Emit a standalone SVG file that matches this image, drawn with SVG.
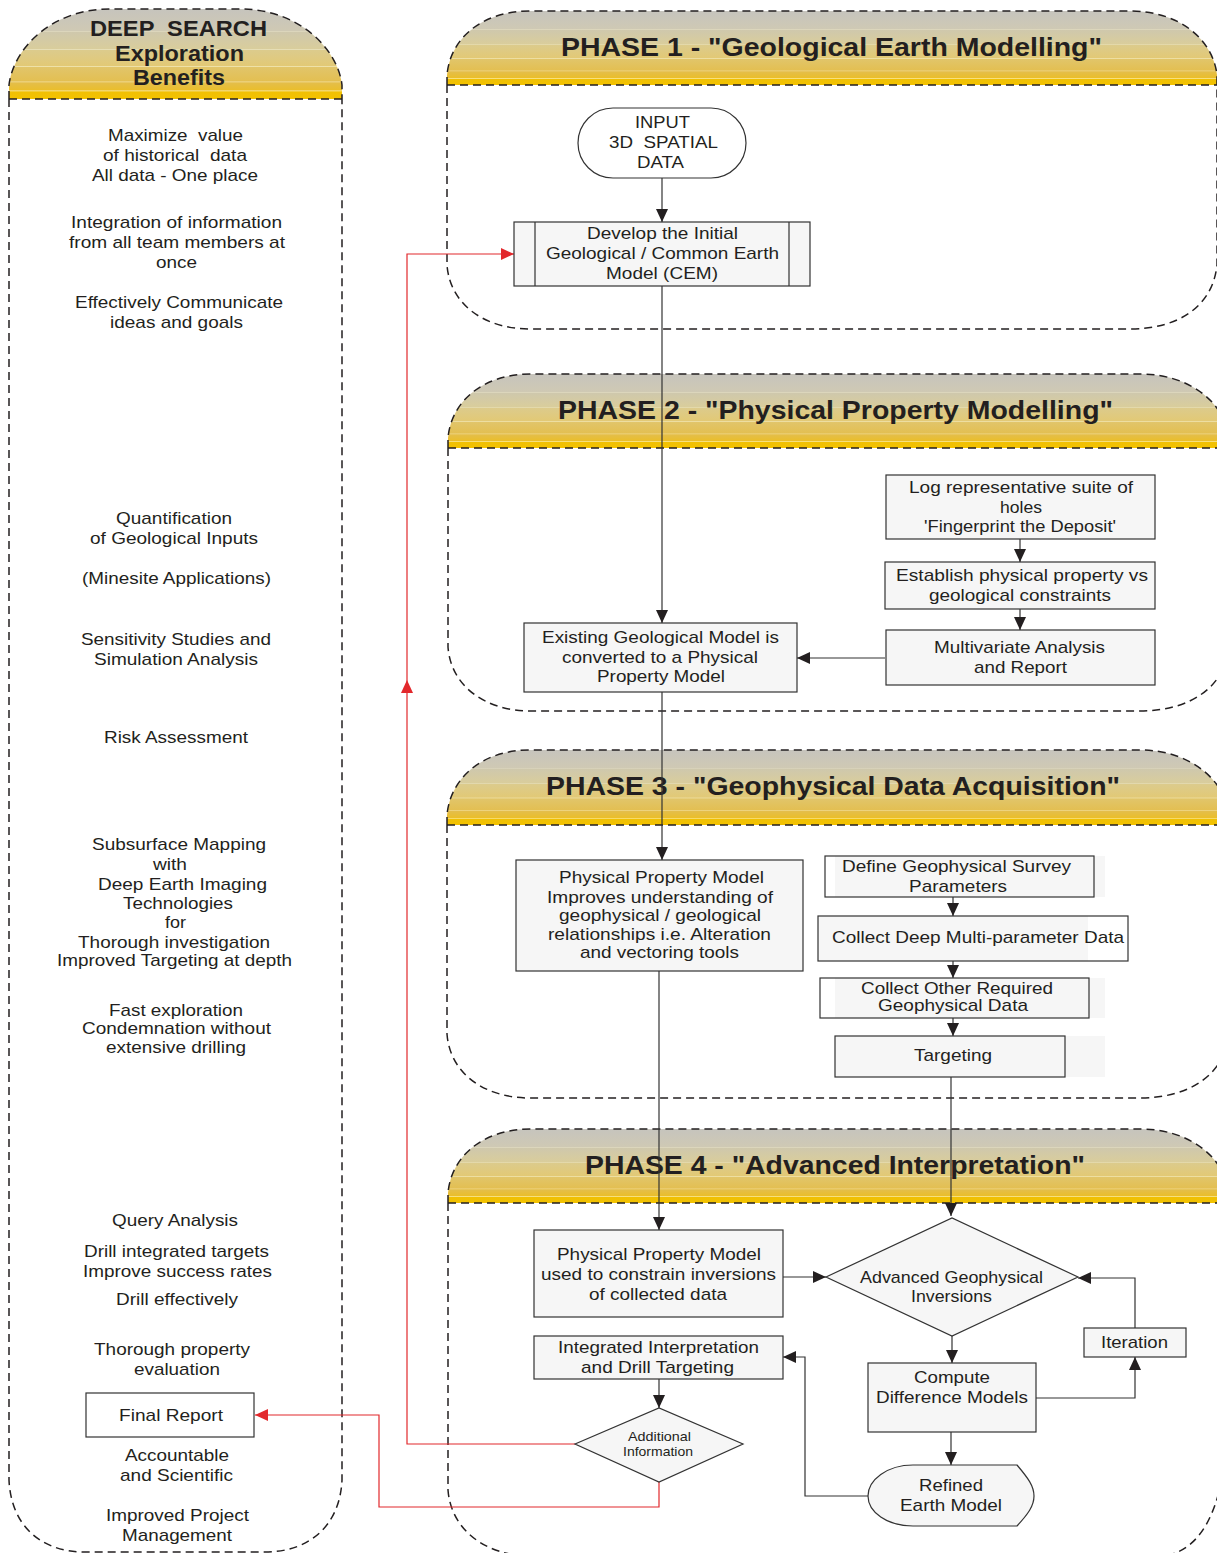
<svg xmlns="http://www.w3.org/2000/svg" width="1217" height="1553" viewBox="0 0 1217 1553">
<style>
text{font-family:"Liberation Sans",Arial,sans-serif;font-size:17px;fill:#231f20;text-anchor:middle;white-space:pre}
.h{font-weight:bold;font-size:26px}
.hl{font-weight:bold;font-size:22px}
.s{font-size:13px}
.hd{fill:url(#g);stroke:none}
.pn{fill:none;stroke:#231f20;stroke-width:1.5;stroke-dasharray:8 5}
.b{fill:#f6f6f6;stroke:#333;stroke-width:1.2}
.w{fill:#fff;stroke:#333;stroke-width:1.2}
.f{fill:#f6f6f6;stroke:none}
.c{fill:none;stroke:#333;stroke-width:1.2}
.a{marker-end:url(#ar)}
.r{fill:none;stroke:#e2282c;stroke-width:1.2}
.ra{marker-end:url(#rr)}
</style>
<defs>
<linearGradient id="g" x1="0" y1="0" x2="0" y2="1">
<stop offset="0" stop-color="#c6c4bd"/><stop offset=".24" stop-color="#cfc9b4"/><stop offset=".25" stop-color="#dcd6bc"/><stop offset=".26" stop-color="#cfc8ac"/><stop offset=".44" stop-color="#d9cd9c"/><stop offset=".45" stop-color="#e6deb6"/><stop offset=".46" stop-color="#dccb8c"/><stop offset=".63" stop-color="#e2c976"/><stop offset=".64" stop-color="#f0e4ae"/><stop offset=".65" stop-color="#e1c56a"/><stop offset=".8" stop-color="#e3bf52"/><stop offset=".81" stop-color="#f2dc94"/><stop offset=".82" stop-color="#e4be4a"/><stop offset=".9" stop-color="#eabe2c"/><stop offset=".91" stop-color="#f8e8a0"/><stop offset=".92" stop-color="#f0c004"/><stop offset="1" stop-color="#f3c200"/>
</linearGradient>
<marker id="ar" markerUnits="userSpaceOnUse" markerWidth="14" markerHeight="13" refX="13" refY="6" orient="auto"><path d="M0,0L13,6L0,12z" fill="#231f20"/></marker>
<marker id="rr" markerUnits="userSpaceOnUse" markerWidth="14" markerHeight="13" refX="13" refY="6" orient="auto"><path d="M0,0L13,6L0,12z" fill="#e2282c"/></marker>
</defs>

<g id="panel-benefits">
<path class="hd" d="M9,99V85C13,50 50,9 110,9H240C300,9 338,50 342,85V99Z"/>
<path class="pn" d="M9,99V85C13,50 50,9 110,9H240C300,9 338,50 342,85V99M9,99H342M9,99V1480C11,1525 40,1552 85,1552H265C310,1552 340,1525 342,1480V99"/>
<text class="hl" x="178.500" y="36" textLength="177" lengthAdjust="spacingAndGlyphs">DEEP  SEARCH</text>
<text class="hl" x="179.500" y="61" textLength="129" lengthAdjust="spacingAndGlyphs">Exploration</text>
<text class="hl" x="179" y="85" textLength="92" lengthAdjust="spacingAndGlyphs">Benefits</text>
<text x="175.500" y="141" textLength="135" lengthAdjust="spacingAndGlyphs">Maximize  value</text>
<text x="175" y="161" textLength="144" lengthAdjust="spacingAndGlyphs">of historical  data</text>
<text x="175" y="181" textLength="166" lengthAdjust="spacingAndGlyphs">All data - One place</text>
<text x="176.500" y="228" textLength="211" lengthAdjust="spacingAndGlyphs">Integration of information</text>
<text x="177" y="248" textLength="216" lengthAdjust="spacingAndGlyphs">from all team members at</text>
<text x="176.500" y="268" textLength="41" lengthAdjust="spacingAndGlyphs">once</text>
<text x="179" y="308" textLength="208" lengthAdjust="spacingAndGlyphs">Effectively Communicate</text>
<text x="176.500" y="328" textLength="133" lengthAdjust="spacingAndGlyphs">ideas and goals</text>
<text x="174" y="524" textLength="116" lengthAdjust="spacingAndGlyphs">Quantification</text>
<text x="174" y="544" textLength="168" lengthAdjust="spacingAndGlyphs">of Geological Inputs</text>
<text x="176.500" y="584" textLength="189" lengthAdjust="spacingAndGlyphs">(Minesite Applications)</text>
<text x="176" y="645" textLength="190" lengthAdjust="spacingAndGlyphs">Sensitivity Studies and</text>
<text x="176" y="665" textLength="164" lengthAdjust="spacingAndGlyphs">Simulation Analysis</text>
<text x="176" y="743" textLength="144" lengthAdjust="spacingAndGlyphs">Risk Assessment</text>
<text x="179" y="850" textLength="174" lengthAdjust="spacingAndGlyphs">Subsurface Mapping</text>
<text x="170" y="870" textLength="34" lengthAdjust="spacingAndGlyphs">with</text>
<text x="182.500" y="890" textLength="169" lengthAdjust="spacingAndGlyphs">Deep Earth Imaging</text>
<text x="178" y="909" textLength="110" lengthAdjust="spacingAndGlyphs">Technologies</text>
<text x="175.500" y="928" textLength="21" lengthAdjust="spacingAndGlyphs">for</text>
<text x="174" y="948" textLength="192" lengthAdjust="spacingAndGlyphs">Thorough investigation</text>
<text x="174.500" y="966" textLength="235" lengthAdjust="spacingAndGlyphs">Improved Targeting at depth</text>
<text x="176" y="1016" textLength="134" lengthAdjust="spacingAndGlyphs">Fast exploration</text>
<text x="176.500" y="1034" textLength="189" lengthAdjust="spacingAndGlyphs">Condemnation without</text>
<text x="176" y="1053" textLength="140" lengthAdjust="spacingAndGlyphs">extensive drilling</text>
<text x="175" y="1226" textLength="126" lengthAdjust="spacingAndGlyphs">Query Analysis</text>
<text x="176.500" y="1257" textLength="185" lengthAdjust="spacingAndGlyphs">Drill integrated targets</text>
<text x="177.500" y="1277" textLength="189" lengthAdjust="spacingAndGlyphs">Improve success rates</text>
<text x="177" y="1305" textLength="122" lengthAdjust="spacingAndGlyphs">Drill effectively</text>
<text x="172" y="1355" textLength="156" lengthAdjust="spacingAndGlyphs">Thorough property</text>
<text x="177" y="1375" textLength="86" lengthAdjust="spacingAndGlyphs">evaluation</text>
<text x="177" y="1461" textLength="104" lengthAdjust="spacingAndGlyphs">Accountable</text>
<text x="176.500" y="1481" textLength="113" lengthAdjust="spacingAndGlyphs">and Scientific</text>
<text x="177.500" y="1521" textLength="143" lengthAdjust="spacingAndGlyphs">Improved Project</text>
<text x="177" y="1541" textLength="110" lengthAdjust="spacingAndGlyphs">Management</text>
</g>

<g id="panel-phase1">
<path class="hd" d="M447,85V75C450,40 480,11 530,11H1130C1180,11 1213,40 1217,75V85Z"/>
<path class="pn" d="M447,85V75C450,40 480,11 530,11H1130C1180,11 1213,40 1217,75V85M447,85H1217M447,85V265C450,305 485,329 530,329H1130C1180,329 1213,305 1217,265V85"/>
<text class="h" x="831.500" y="56" textLength="541" lengthAdjust="spacingAndGlyphs">PHASE 1 - "Geological Earth Modelling"</text>
</g>
<g id="panel-phase2">
<path class="hd" d="M448,448V438C451,403 481,374 531,374H1140C1190,374 1225,403 1229,438V448Z"/>
<path class="pn" d="M448,448V438C451,403 481,374 531,374H1140C1190,374 1225,403 1229,438V448M448,448H1229M448,448V647C451,687 486,711 531,711H1140C1190,711 1225,687 1229,647V448"/>
<text class="h" x="835.500" y="419" textLength="555" lengthAdjust="spacingAndGlyphs">PHASE 2 - "Physical Property Modelling"</text>
</g>
<g id="panel-phase3">
<path class="hd" d="M447,825V815C450,780 480,750 530,750H1140C1190,750 1225,780 1229,815V825Z"/>
<path class="pn" d="M447,825V815C450,780 480,750 530,750H1140C1190,750 1225,780 1229,815V825M447,825H1229M447,825V1034C450,1074 485,1098 530,1098H1140C1190,1098 1225,1074 1229,1034V825"/>
<text class="h" x="833" y="795" textLength="574" lengthAdjust="spacingAndGlyphs">PHASE 3 - "Geophysical Data Acquisition"</text>
</g>
<g id="panel-phase4">
<path class="hd" d="M448,1203V1193C451,1158 481,1129 531,1129H1140C1190,1129 1225,1158 1229,1193V1203Z"/>
<path class="pn" d="M448,1203V1193C451,1158 481,1129 531,1129H1140C1190,1129 1225,1158 1229,1193V1203M448,1203H1229M448,1203V1490C451,1530 486,1556 531,1556H1165C1195,1550 1212,1525 1222,1480V1203"/>
<text class="h" x="835" y="1174" textLength="500" lengthAdjust="spacingAndGlyphs">PHASE 4 - "Advanced Interpretation"</text>
</g>

<g id="connectors">
<path class="c a" d="M662,178V222"/>
<path class="c a" d="M662,286V623"/>
<path class="c a" d="M1020,539V562"/>
<path class="c a" d="M1020,609V630"/>
<path class="c a" d="M885,658H797"/>
<path class="c a" d="M662,692V860"/>
<path class="c a" d="M953,897V916"/>
<path class="c a" d="M953,961V978"/>
<path class="c a" d="M953,1018V1036"/>
<path class="c a" d="M659,971V1230"/>
<path class="c a" d="M951,1077V1216"/>
<path class="c a" d="M783,1277H826"/>
<path class="c a" d="M1135,1328V1278H1078"/>
<path class="c a" d="M1036,1398H1135V1357"/>
<path class="c a" d="M952,1336V1363"/>
<path class="c a" d="M951,1432V1465"/>
<path class="c a" d="M868,1496H805V1357H783"/>
<path class="c a" d="M659,1379V1408"/>
<path class="r ra" d="M575,1444H407V680"/>
<path class="r ra" d="M407,680V254H514"/>
<path class="r ra" d="M659,1482V1507H379V1415H255"/>
</g>

<g id="node-input"><rect class="w" x="578" y="108" width="168" height="70" rx="35"/>
<text x="662.500" y="128" textLength="55" lengthAdjust="spacingAndGlyphs">INPUT</text>
<text x="663.500" y="148" textLength="109" lengthAdjust="spacingAndGlyphs">3D  SPATIAL</text>
<text x="660.500" y="168" textLength="47" lengthAdjust="spacingAndGlyphs">DATA</text></g>
<g id="node-develop"><rect class="b" x="514" y="222" width="296" height="64"/><path class="c" d="M535,222V286M789,222V286"/>
<text x="662.500" y="239" textLength="151" lengthAdjust="spacingAndGlyphs">Develop the Initial</text>
<text x="662.500" y="259" textLength="233" lengthAdjust="spacingAndGlyphs">Geological / Common Earth</text>
<text x="662" y="279" textLength="112" lengthAdjust="spacingAndGlyphs">Model (CEM)</text></g>
<g id="node-log"><rect class="b" x="886" y="475" width="269" height="64"/>
<text x="1021" y="493" textLength="224" lengthAdjust="spacingAndGlyphs">Log representative suite of</text>
<text x="1021" y="513" textLength="42" lengthAdjust="spacingAndGlyphs">holes</text>
<text x="1020" y="532" textLength="192" lengthAdjust="spacingAndGlyphs">'Fingerprint the Deposit'</text></g>
<g id="node-establish"><rect class="b" x="885" y="562" width="270" height="47"/>
<text x="1022" y="581" textLength="252" lengthAdjust="spacingAndGlyphs">Establish physical property vs</text>
<text x="1020" y="601" textLength="182" lengthAdjust="spacingAndGlyphs">geological constraints</text></g>
<g id="node-multivariate"><rect class="b" x="886" y="630" width="269" height="55"/>
<text x="1019.500" y="653" textLength="171" lengthAdjust="spacingAndGlyphs">Multivariate Analysis</text>
<text x="1020.500" y="673" textLength="93" lengthAdjust="spacingAndGlyphs">and Report</text></g>
<g id="node-existing"><rect class="b" x="524" y="623" width="273" height="69"/>
<text x="660.500" y="643" textLength="237" lengthAdjust="spacingAndGlyphs">Existing Geological Model is</text>
<text x="660" y="663" textLength="196" lengthAdjust="spacingAndGlyphs">converted to a Physical</text>
<text x="661" y="682" textLength="128" lengthAdjust="spacingAndGlyphs">Property Model</text></g>
<g id="node-ppm-improves"><rect class="b" x="516" y="860" width="287" height="111"/>
<text x="661.500" y="883" textLength="205" lengthAdjust="spacingAndGlyphs">Physical Property Model</text>
<text x="660" y="903" textLength="226" lengthAdjust="spacingAndGlyphs">Improves understanding of</text>
<text x="660" y="921" textLength="202" lengthAdjust="spacingAndGlyphs">geophysical / geological</text>
<text x="659.500" y="940" textLength="223" lengthAdjust="spacingAndGlyphs">relationships i.e. Alteration</text>
<text x="659.500" y="958" textLength="159" lengthAdjust="spacingAndGlyphs">and vectoring tools</text></g>
<g id="node-define"><rect class="f" x="835" y="856" width="270" height="41"/><rect x="825" y="856" width="269" height="41" fill="none" stroke="#333" stroke-width="1.2"/>
<text x="956.500" y="872" textLength="229" lengthAdjust="spacingAndGlyphs">Define Geophysical Survey</text>
<text x="958" y="892" textLength="98" lengthAdjust="spacingAndGlyphs">Parameters</text></g>
<g id="node-collect-deep"><rect class="f" x="818" y="916" width="270" height="45"/><rect x="818" y="916" width="310" height="45" fill="none" stroke="#333" stroke-width="1.2"/>
<text x="978" y="943" textLength="292" lengthAdjust="spacingAndGlyphs">Collect Deep Multi-parameter Data</text></g>
<g id="node-collect-other"><rect class="f" x="835" y="978" width="270" height="40"/><rect x="820" y="978" width="269" height="40" fill="none" stroke="#333" stroke-width="1.2"/>
<text x="957" y="994" textLength="192" lengthAdjust="spacingAndGlyphs">Collect Other Required</text>
<text x="953" y="1011" textLength="150" lengthAdjust="spacingAndGlyphs">Geophysical Data</text></g>
<g id="node-targeting"><rect class="f" x="835" y="1036" width="270" height="41"/><rect x="835" y="1036" width="230" height="41" fill="none" stroke="#333" stroke-width="1.2"/>
<text x="953" y="1061" textLength="78" lengthAdjust="spacingAndGlyphs">Targeting</text></g>
<g id="node-ppm-constrain"><rect class="b" x="534" y="1230" width="249" height="87"/>
<text x="659" y="1260" textLength="204" lengthAdjust="spacingAndGlyphs">Physical Property Model</text>
<text x="658.500" y="1280" textLength="235" lengthAdjust="spacingAndGlyphs">used to constrain inversions</text>
<text x="658" y="1300" textLength="138" lengthAdjust="spacingAndGlyphs">of collected data</text></g>
<g id="node-inversions"><path class="b" d="M826,1277L952,1218L1078,1277L952,1336Z"/>
<text x="951.500" y="1283" textLength="183" lengthAdjust="spacingAndGlyphs">Advanced Geophysical</text>
<text x="951.500" y="1302" textLength="81" lengthAdjust="spacingAndGlyphs">Inversions</text></g>
<g id="node-integrated"><rect class="b" x="534" y="1336" width="249" height="43"/>
<text x="658.500" y="1353" textLength="201" lengthAdjust="spacingAndGlyphs">Integrated Interpretation</text>
<text x="657.500" y="1373" textLength="153" lengthAdjust="spacingAndGlyphs">and Drill Targeting</text></g>
<g id="node-iteration"><rect class="b" x="1084" y="1328" width="102" height="29"/>
<text x="1134.500" y="1348" textLength="67" lengthAdjust="spacingAndGlyphs">Iteration</text></g>
<g id="node-compute"><rect class="b" x="868" y="1363" width="168" height="69"/>
<text x="952" y="1383" textLength="76" lengthAdjust="spacingAndGlyphs">Compute</text>
<text x="952" y="1403" textLength="152" lengthAdjust="spacingAndGlyphs">Difference Models</text></g>
<g id="node-additional"><path class="b" d="M575,1444L659,1408L743,1444L659,1482Z"/>
<text class="s" x="659.500" y="1441" textLength="63" lengthAdjust="spacingAndGlyphs">Additional</text>
<text class="s" x="658" y="1456" textLength="70" lengthAdjust="spacingAndGlyphs">Information</text></g>
<g id="node-refined"><path class="b" d="M913,1465H1017C1028,1478 1034,1486 1034,1496C1034,1506 1028,1514 1017,1526H913C887,1526 868,1512 868,1496C868,1480 887,1465 913,1465Z"/>
<text x="951" y="1491" textLength="64" lengthAdjust="spacingAndGlyphs">Refined</text>
<text x="951" y="1511" textLength="102" lengthAdjust="spacingAndGlyphs">Earth Model</text></g>
<g id="node-final"><rect class="w" x="86" y="1393" width="168" height="44"/>
<text x="171" y="1421" textLength="104" lengthAdjust="spacingAndGlyphs">Final Report</text></g>
</svg>
